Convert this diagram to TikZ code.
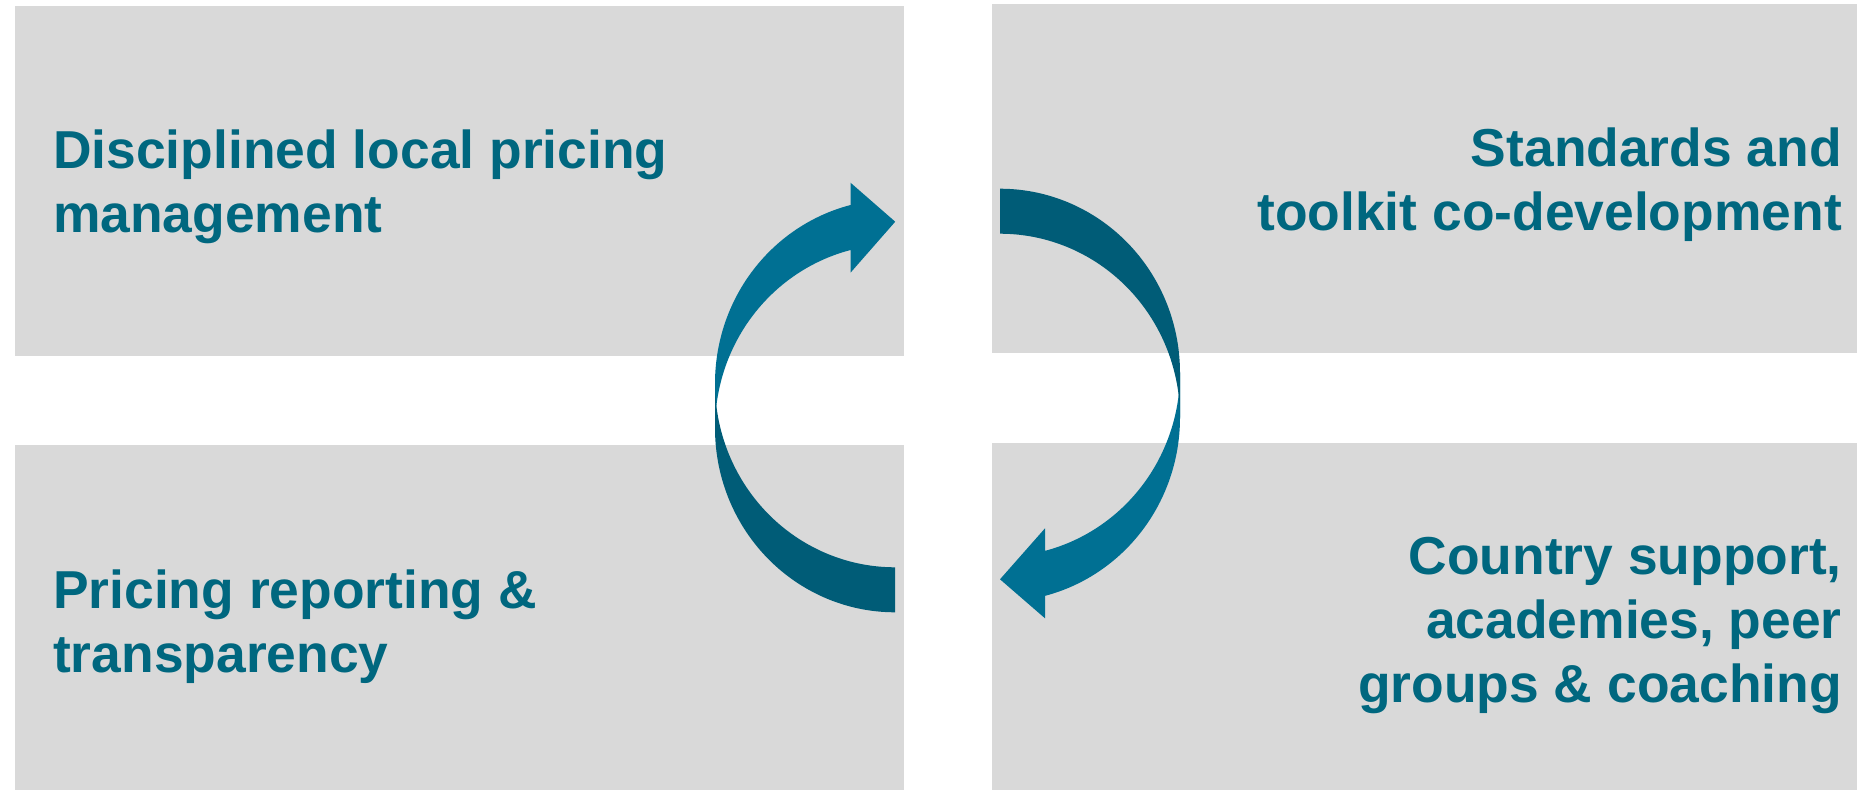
\documentclass[tikz,border=0pt]{standalone}
\usepackage{fontspec}
\setmainfont{Liberation Sans}
\definecolor{boxgray}{HTML}{D9D9D9}
\definecolor{textteal}{HTML}{00677F}
\definecolor{arrowlight}{HTML}{007093}
\definecolor{arrowdark}{HTML}{005C77}
\tikzset{
  panel/.style={fill=boxgray, inner sep=0pt, outer sep=0pt, anchor=north west},
  boxtext/.style={text=textteal, inner sep=0pt, font=\bfseries\fontsize{53.4}{64}\selectfont},
}

\begin{document}
\begin{tikzpicture}[x=1pt, y=-1pt]
    \useasboundingbox (0,0) rectangle (1857,790);
    % grey panels
    \node[panel, minimum width=889pt, minimum height=350pt] (tlbox) at (15,6) {};
    \node[panel, minimum width=865pt, minimum height=349pt] (trbox) at (992,4) {};
    \node[panel, minimum width=889pt, minimum height=345pt] (blbox) at (15,445) {};
    \node[panel, minimum width=865pt, minimum height=347pt] (brbox) at (992,443) {};
    % texts (anchor is the baseline of the last line)
    \node[boxtext, anchor=base west, align=left] (tltext) at (53,232) {Disciplined local pricing\\management};
    \node[boxtext, anchor=base east, align=right] (trtext) at (1842,230) {Standards and\\toolkit co-development};
    \node[boxtext, anchor=base west, align=left] (bltext) at (53,672) {Pricing reporting \&\\transparency};
    \node[boxtext, anchor=base east, align=right] (brtext) at (1842,702) {Country support,\\academies, peer\\groups \& coaching};
    % left arrow, going up: two ellipses 180 x 184, centres 45 apart
    \fill[arrowlight] plot[domain=75.69:0, variable=\t, samples=50, smooth] ({895-180*cos(\t)},{383.3-184*sin(\t)})
        -- plot[domain=0:75.69, variable=\t, samples=50, smooth] ({895-180*cos(\t)},{428.3-184*sin(\t)})
        -- (850.5,272.7) -- (895.2,221.7) -- (850.5,182.7) -- cycle;
    \fill[arrowdark] plot[domain=0:90, variable=\t, samples=50, smooth] ({895-180*cos(\t)},{428.3+184*sin(\t)})
        -- plot[domain=90:0, variable=\t, samples=50, smooth] ({895-180*cos(\t)},{383.3+184*sin(\t)}) -- cycle;
    % right arrow, going down
    \fill[arrowlight] plot[domain=0:75.52, variable=\t, samples=50, smooth] ({1000+180*cos(\t)},{417.7+184*sin(\t)})
        -- (1045,618.3) -- (1000,579.3) -- (1045,528.3)
        -- plot[domain=75.52:0, variable=\t, samples=50, smooth] ({1000+180*cos(\t)},{372.7+184*sin(\t)}) -- cycle;
    \fill[arrowdark] plot[domain=90:0, variable=\t, samples=50, smooth] ({1000+180*cos(\t)},{372.7-184*sin(\t)})
        -- plot[domain=0:90, variable=\t, samples=50, smooth] ({1000+180*cos(\t)},{417.7-184*sin(\t)}) -- cycle;
\end{tikzpicture}
\end{document}
